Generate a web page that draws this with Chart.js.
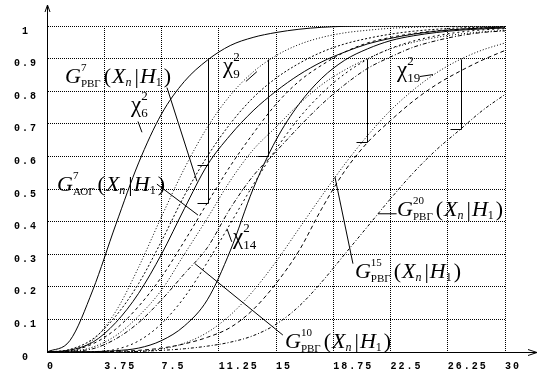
<!DOCTYPE html>
<html>
<head>
<meta charset="utf-8">
<script src="https://cdn.jsdelivr.net/npm/chart.js@4.4.1/dist/chart.umd.min.js"></script>
<style>
html,body{margin:0;padding:0;background:#fff;overflow:hidden;}
#wrap{width:543px;height:376px;}
canvas{display:block;}
</style>
</head>
<body>
<div id="wrap"><canvas id="c" width="543" height="376"></canvas></div>
<script>
// ---------- data ----------
const xValues = [0,1.5,3,4.5,6,7.5,9,10.5,12,13.5,15,16.5,18,19.5,21,22.5,24,25.5,27,28.5,30];
const xTickValues = [0,3.75,7.5,11.25,15,18.75,22.5,26.25,30];
const yTickValues = [0,0.1,0.2,0.3,0.4,0.5,0.6,0.7,0.8,0.9,1];

const chi6  = [0,0.035,0.19,0.39,0.58,0.73,0.83,0.895,0.94,0.965,0.98,0.99,0.996,0.999,1,1,1,1,1,1,1];
const chi9  = [0,0.003,0.036,0.124,0.26,0.415,0.563,0.689,0.787,0.859,0.909,0.943,0.965,0.979,0.987,0.993,0.996,0.998,0.999,1,1];
const curveA = [0,0.008,0.04,0.11,0.21,0.34,0.48,0.60,0.70,0.78,0.84,0.885,0.92,0.945,0.962,0.975,0.984,0.99,0.994,0.996,0.998];
const g7RVG = [0,0.006,0.03,0.09,0.18,0.30,0.44,0.573,0.665,0.74,0.80,0.85,0.89,0.92,0.945,0.962,0.975,0.984,0.99,0.994,0.997];
const g7AOG = [0,0.004,0.025,0.07,0.14,0.23,0.34,0.457,0.57,0.67,0.76,0.83,0.88,0.92,0.948,0.965,0.977,0.985,0.99,0.993,0.995];
const curveB = [0,0.002,0.015,0.05,0.11,0.19,0.30,0.41,0.525,0.62,0.69,0.76,0.82,0.865,0.90,0.93,0.95,0.965,0.975,0.982,0.987];
const g10RVG = [0,0.002,0.01,0.04,0.09,0.16,0.24,0.32,0.44,0.54,0.615,0.69,0.76,0.82,0.87,0.905,0.935,0.955,0.97,0.98,0.985];
const chi14 = [0,0,0.001,0.008,0.034,0.087,0.168,0.275,0.393,0.512,0.622,0.717,0.793,0.853,0.898,0.931,0.954,0.970,0.981,0.988,0.992];
const curveC = [0,0,0.001,0.004,0.012,0.035,0.08,0.16,0.31,0.5,0.65,0.76,0.84,0.895,0.93,0.955,0.97,0.98,0.987,0.991,0.994];
const chi19 = [0,0,0,0,0.002,0.009,0.027,0.06,0.113,0.187,0.277,0.378,0.479,0.576,0.664,0.741,0.804,0.856,0.896,0.926,0.948];
const g15RVG = [0,0,0,0.002,0.005,0.012,0.025,0.045,0.075,0.13,0.21,0.31,0.44,0.555,0.643,0.71,0.77,0.82,0.86,0.895,0.925];
const g20RVG = [0,0,0,0,0.002,0.005,0.01,0.018,0.03,0.05,0.085,0.14,0.215,0.30,0.385,0.47,0.55,0.62,0.68,0.74,0.79];

// thresholds (0.9 quantiles) and the G values marked there
const thresholds = [10.52,14.47,20.96,27.1];
const thresholdTop = 0.9;
const thresholdLevels = [[0.573,0.457],[0.6],[0.643],[0.685]];

// ---------- styles ----------
const seriesList = [
  {v:chi6,  dash:[]},
  {v:chi9,  dash:[1,2]},
  {v:curveA,dash:[2,2]},
  {v:g7RVG, dash:[]},
  {v:g7AOG, dash:[3,3]},
  {v:curveB,dash:[1,2]},
  {v:g10RVG,dash:[4,2,1,2]},
  {v:chi14, dash:[2,3]},
  {v:curveC,dash:[]},
  {v:chi19, dash:[1,2]},
  {v:g15RVG,dash:[4,3]},
  {v:g20RVG,dash:[3,2,1,2]}
];

const SERIF = '"Liberation Serif","Times New Roman",serif';
const labelDefs = [
  {kind:'G', n:'7',  sub:'РВГ', x:1.18,  y:0.826},
  {kind:'G', n:'7',  sub:'АОГ', x:0.655, y:0.494},
  {kind:'G', n:'10', sub:'РВГ', x:15.59, y:0.012},
  {kind:'G', n:'15', sub:'РВГ', x:20.17, y:0.226},
  {kind:'G', n:'20', sub:'РВГ', x:22.93, y:0.418},
  {kind:'chi', n:'6',  x:5.50,  y:0.735},
  {kind:'chi', n:'9',  x:11.53, y:0.857},
  {kind:'chi', n:'14', x:12.18, y:0.332},
  {kind:'chi', n:'19', x:22.93, y:0.843}
];
const pointers = [
  [7.86,0.811,9.82,0.524],
  [7.2,0.515,9.89,0.42],
  [5.96,0.707,6.22,0.674],
  [13.03,0.83,13.75,0.86],
  [11.79,0.378,12.1,0.338],
  [24.43,0.845,25.28,0.851],
  [9.69,0.271,15.45,0.052],
  [18.86,0.537,20.04,0.271],
  [21.68,0.424,22.9,0.424]
];

function gParts(n, sub){
  return [
    {t:'G', font:`italic 22px ${SERIF}`},
    {stack:true, sup:n, sub:sub, supFont:`11px ${SERIF}`, subFont:`11px ${SERIF}`, supDy:-12, subDy:4, gap:3},
    {t:'(', font:`22px ${SERIF}`, gap:1},
    {t:'X', font:`italic 22px ${SERIF}`},
    {t:'n', font:`italic 12px ${SERIF}`, dy:3, gap:3},
    {t:'|', font:`22px ${SERIF}`, gap:1},
    {t:'H', font:`italic 22px ${SERIF}`},
    {t:'1', font:`12px ${SERIF}`, dy:3, gap:2},
    {t:')', font:`22px ${SERIF}`}
  ];
}
function chiParts(n){
  return [
    {t:'χ', font:`23px ${SERIF}`},
    {stack:true, sup:'2', sub:n, supFont:`13px ${SERIF}`, subFont:`13px ${SERIF}`, supDy:-12, subDy:5}
  ];
}
function drawRich(ctx, x, y, parts){
  let cx = x;
  for (const p of parts){
    if (p.stack){
      ctx.font = p.supFont; const w1 = ctx.measureText(p.sup).width; ctx.fillText(p.sup, cx, y + p.supDy);
      ctx.font = p.subFont; const w2 = ctx.measureText(p.sub).width; ctx.fillText(p.sub, cx, y + p.subDy);
      cx += Math.max(w1, w2) + (p.gap || 0);
    } else {
      ctx.font = p.font; ctx.fillText(p.t, cx, y + (p.dy || 0));
      cx += ctx.measureText(p.t).width + (p.gap || 0);
    }
  }
}

const annot = {
  id:'annot',
  beforeDraw(chart){ chart.ctx.letterSpacing = '2px'; },
  beforeDatasetsDraw(chart){ chart.ctx.letterSpacing = '0px'; },
  afterDatasetsDraw(chart){
    const ctx = chart.ctx, sx = chart.scales.x, sy = chart.scales.y, ca = chart.chartArea;
    const X = v => sx.getPixelForValue(v), Y = v => sy.getPixelForValue(v);
    const A = p => Math.round(p) + 0.5;
    ctx.save();
    ctx.letterSpacing = '0px';
    ctx.strokeStyle = '#000'; ctx.fillStyle = '#000'; ctx.lineWidth = 1; ctx.setLineDash([]);
    // axis extensions + arrows
    const ax = A(X(0)), ay = A(Y(0));
    ctx.beginPath();
    ctx.moveTo(ax, ca.top); ctx.lineTo(ax, ca.top - 21);
    ctx.moveTo(ax - 2.5, ca.top - 14); ctx.lineTo(ax, ca.top - 21); ctx.lineTo(ax + 2.5, ca.top - 14);
    ctx.moveTo(ca.right, ay); ctx.lineTo(ca.right + 32, ay);
    ctx.moveTo(ca.right + 23, ay - 3); ctx.lineTo(ca.right + 32, ay); ctx.lineTo(ca.right + 23, ay + 3);
    ctx.stroke();
    // threshold markers
    ctx.beginPath();
    thresholds.forEach((t, i) => {
      const px = A(X(t));
      const levels = thresholdLevels[i];
      const low = Math.min(...levels);
      ctx.moveTo(px, A(Y(thresholdTop))); ctx.lineTo(px, A(Y(low)));
      levels.forEach(l => { ctx.moveTo(A(X(t - 0.72)), A(Y(l))); ctx.lineTo(px, A(Y(l))); });
    });
    ctx.stroke();
    // pointer lines
    ctx.beginPath();
    pointers.forEach(p => { ctx.moveTo(X(p[0]), Y(p[1])); ctx.lineTo(X(p[2]), Y(p[3])); });
    ctx.stroke();
    // labels
    ctx.textAlign = 'left'; ctx.textBaseline = 'alphabetic';
    labelDefs.forEach(l => {
      const parts = l.kind === 'G' ? gParts(l.n, l.sub) : chiParts(l.n);
      drawRich(ctx, X(l.x), Y(l.y), parts);
    });
    ctx.restore();
  }
};

const tickFont = {family:'"Liberation Mono","DejaVu Sans Mono",monospace', size:10, weight:'bold'};

new Chart(document.getElementById('c'), {
  type:'line',
  data:{
    datasets: seriesList.map(s => ({
      data: xValues.map((x, i) => ({x:x, y:s.v[i]})),
      borderColor:'#000', borderWidth:1, borderDash:s.dash,
      pointRadius:0, fill:false, cubicInterpolationMode:'monotone'
    }))
  },
  options:{
    responsive:false, animation:false, devicePixelRatio:1,
    layout:{padding:{left:0, top:26, right:38, bottom:0}},
    plugins:{legend:{display:false}, tooltip:{enabled:false}},
    scales:{
      x:{
        type:'linear', min:0, max:30,
        afterBuildTicks: s => { s.ticks = xTickValues.map(v => ({value:v})); },
        afterFit: s => { s.height = 22; },
        grid:{color:'#000', lineWidth:1, drawTicks:false},
        border:{display:true, color:'#000', width:1, dash:[1,1]},
        ticks:{align:'start', padding:8, font:tickFont, color:'#000', autoSkip:false, maxRotation:0,
               callback: v => String(v)}
      },
      y:{
        type:'linear', min:0, max:1,
        afterBuildTicks: s => { s.ticks = yTickValues.map(v => ({value:v})); },
        afterFit: s => { s.width = 47; },
        grid:{color:'#000', lineWidth:1, drawTicks:false},
        border:{display:true, color:'#000', width:1, dash:[1,1]},
        ticks:{align:'start', crossAlign:'center', padding:12, font:tickFont, color:'#000', autoSkip:false,
               callback: v => String(Math.round(v * 10) / 10)}
      }
    }
  },
  plugins:[annot]
});
</script>
</body>
</html>
